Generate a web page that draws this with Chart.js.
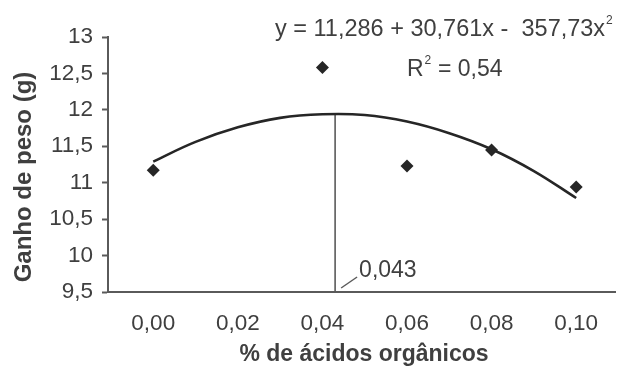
<!DOCTYPE html>
<html>
<head>
<meta charset="utf-8">
<script src="https://cdn.jsdelivr.net/npm/chart.js@4/dist/chart.umd.min.js"></script>
<style>
 html, body { margin: 0; padding: 0; background: #fff; }
 #wrap { width: 622px; height: 370px; position: relative; }
</style>
</head>
<body>
<div id="wrap"><canvas id="chart"></canvas></div>
<script>
/* ── DATA ────────────────────────────────────────────────── */
const xValues   = [0.00, 0.04, 0.06, 0.08, 0.10];
const gainObs   = [11.17, 12.58, 11.23, 11.45, 10.94];

// trend curve
const curveX    = [0.00, 0.01, 0.02, 0.03, 0.04, 0.05, 0.06, 0.07, 0.08, 0.09, 0.10];
const curveY    = [11.29, 11.56, 11.76, 11.89, 11.94, 11.93, 11.84, 11.68, 11.46, 11.16, 10.79];

const peakX     = 0.043;
const peakY     = 11.944;
const xTicks    = [0.00, 0.02, 0.04, 0.06, 0.08, 0.10];
const yTitle    = 'Ganho de peso (g)';
const xTitle    = '% de ácidos orgânicos';
const eqText    = 'y = 11,286 + 30,761x -  357,73x';
const r2Text    = ' = 0,54';
const peakLabel = '0,043';

/* ── STYLE ───────────────────────────────────────────────── */
const FONT = "'Liberation Sans', Arial, sans-serif";
const TXT = '#3f3f3f';
const AXIS = '#5a5a5a';
const comma = v => String(v).replace('.', ',');

/* ── EXTRA TEXT (titles, equation, labels) ───────────────── */
const extras = {
 id: 'extras',
 afterDraw(chart) {
 const { ctx, scales: { x, y } } = chart;
 ctx.save();
 ctx.fillStyle = TXT;
 ctx.textBaseline = 'middle';

 // y title
 ctx.save();
 ctx.translate(24, 177);
 ctx.rotate(-Math.PI / 2);
 ctx.textAlign = 'center';
 ctx.font = `bold 24px ${FONT}`;
 ctx.fillText(yTitle, 0, 0);
 ctx.restore();

 // x title
 ctx.textAlign = 'center';
 ctx.font = `bold 23px ${FONT}`;
 ctx.fillText(xTitle, 364, 355);

 // equation
 ctx.textAlign = 'left';
 ctx.font = `23.5px ${FONT}`;
 ctx.fillText(eqText, 275, 30);
 let w = ctx.measureText(eqText).width;
 ctx.font = `12px ${FONT}`;
 ctx.fillText('2', 275 + w + 1, 21);

 // R²
 ctx.font = `23px ${FONT}`;
 ctx.fillText('R', 407, 70);
 w = ctx.measureText('R').width;
 ctx.font = `12px ${FONT}`;
 ctx.fillText('2', 407 + w + 1, 61);
 ctx.font = `23px ${FONT}`;
 ctx.fillText(r2Text, 407 + w + 8, 70);

 // peak label with leader
 const px = x.getPixelForValue(peakX), pb = y.getPixelForValue(y.min);
 ctx.strokeStyle = AXIS;
 ctx.lineWidth = 1.5;
 ctx.beginPath();
 ctx.moveTo(px + 6, pb - 4);
 ctx.lineTo(px + 22, pb - 15);
 ctx.stroke();
 ctx.fillText(peakLabel, px + 24, 271);
 ctx.restore();
 }
};

/* ── CHART ───────────────────────────────────────────────── */
new Chart(document.getElementById('chart'), {
 type: 'scatter',
 data: {
 datasets: [
 {
 label: 'Observado',
 data: xValues.map((v, i) => ({ x: v, y: gainObs[i] })),
 pointStyle: 'rectRot',
 pointRadius: 6.5,
 backgroundColor: '#262626',
 borderColor: '#262626',
 borderWidth: 0,
 order: 0
 },
 {
 label: 'Tendência',
 data: curveX.map((v, i) => ({ x: v, y: curveY[i] })),
 showLine: true,
 borderColor: '#262626',
 borderWidth: 2.6,
 pointRadius: 0,
 tension: 0.4,
 order: 1
 },
 {
 label: 'Máximo',
 data: [{ x: peakX, y: 9.5 }, { x: peakX, y: peakY }],
 showLine: true,
 borderColor: AXIS,
 borderWidth: 1.6,
 pointRadius: 0,
 order: 2
 }
 ]
 },
 options: {
 responsive: true,
 maintainAspectRatio: false,
 animation: false,
 layout: { padding: { top: 37, right: 0, left: 0, bottom: 0 } },
 plugins: { legend: { display: false }, tooltip: { enabled: false } },
 scales: {
 x: {
 type: 'linear',
 min: -0.0107,
 max: 0.1093,
 afterBuildTicks: s => { s.ticks = xTicks.map(v => ({ value: v })); },
 afterFit: s => { s.height = 78; },
 grid: { display: true, drawOnChartArea: false, drawTicks: false },
 border: { display: true, color: AXIS, width: 2 },
 ticks: {
 color: TXT,
 padding: 18,
 font: { family: FONT, size: 22.5 },
 maxRotation: 0,
 callback: v => v.toFixed(2).replace('.', ',')
 }
 },
 y: {
 min: 9.5,
 max: 13,
 afterFit: s => { s.width = 108; },
 grid: { drawOnChartArea: false, tickLength: 6, tickColor: AXIS, tickWidth: 2 },
 border: { display: true, color: AXIS, width: 2 },
 ticks: {
 stepSize: 0.5,
 color: TXT,
 padding: 9,
 font: { family: FONT, size: 22.5 },
 callback: v => comma(v)
 }
 }
 }
 },
 plugins: [extras]
});
</script>
</body>
</html>
